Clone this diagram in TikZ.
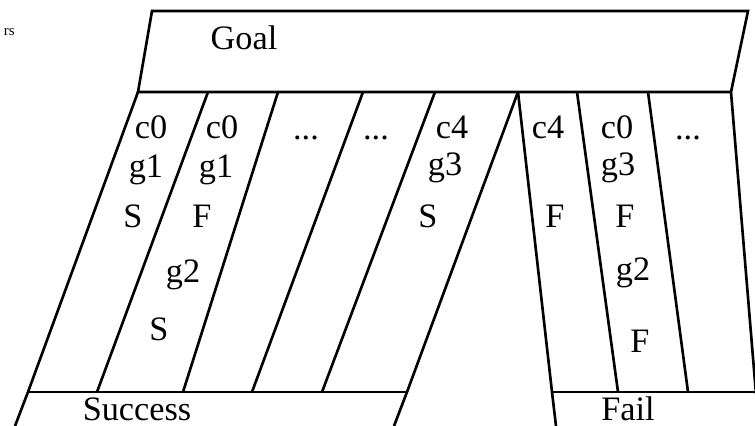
\documentclass[tikz,border=0pt]{standalone}
\usepackage{fontspec}
\setmainfont{Liberation Serif}
\usepackage{tikz}

\begin{document}
\begin{tikzpicture}[x=0.02cm, y=-0.02cm, line width=1.5pt,
		lbl/.style={anchor=base, inner sep=0pt, font=\fontsize{19.5}{23}\selectfont},
		tiny/.style={anchor=base east, inner sep=0pt, font=\fontsize{8.5}{10}\selectfont}]
		\useasboundingbox (0,0) rectangle (755,426);
		\clip (0,0) rectangle (755,426);
		% goal box
		\coordinate (GA) at (152,11);
		\coordinate (GB) at (748,11);
		\coordinate (GC) at (731,92);
		\coordinate (GD) at (138,92);
		\draw (GA) -- (GB) -- (GC) -- (GD) -- cycle;
		% tops of the strips
		\coordinate (T2) at (208,92);
		\coordinate (T3) at (278,92);
		\coordinate (T4) at (363,92);
		\coordinate (T5) at (435,92);
		\coordinate (T6) at (518,92);
		\coordinate (T8) at (577,92);
		\coordinate (T9) at (648,92);
		% feet of the strips
		\coordinate (B1) at (28,392);
		\coordinate (B2) at (97,392);
		\coordinate (B3) at (183,392);
		\coordinate (B4) at (252,392);
		\coordinate (B5) at (322,392);
		\coordinate (B6) at (407,392);
		\coordinate (B7) at (552,392);
		\coordinate (B8) at (618,392);
		\coordinate (B9) at (688,392);
		\coordinate (B10) at (756,394);
		\coordinate (E1) at (15,426);
		\coordinate (E6) at (394,426);
		\coordinate (E7) at (556,426);
		\coordinate (FR) at (755,392);
		\draw (GD) -- (B1) -- (E1);
		\draw (T2) -- (B2);
		\draw (T3) -- (B3);
		\draw (T4) -- (B4);
		\draw (T5) -- (B5);
		\draw (T6) -- (B6) -- (E6);
		\draw (T6) -- (B7) -- (E7);
		\draw (T8) -- (B8);
		\draw (T9) -- (B9);
		\draw (GC) -- (B10);
		\draw (B1) -- (B6);
		\draw (B7) -- (FR);
		% labels
		\node[lbl] (goal) at (244,50) {Goal};
		\node[lbl] (succ) at (137,420) {Success};
		\node[lbl] (fail) at (628,420) {Fail};
		\node[tiny] (rest) at (16,35) {rs};
		\node[lbl] (c0a) at (151,138) {c0};
		\node[lbl] (g1a) at (146,177) {g1};
		\node[lbl] (sa) at (133,227) {S};
		\node[lbl] (c0b) at (222,138) {c0};
		\node[lbl] (g1b) at (216,177) {g1};
		\node[lbl] (fb) at (202,227) {F};
		\node[lbl] (g2b) at (183,282) {g2};
		\node[lbl] (sb) at (159,340) {S};
		\node[lbl] (dotc) at (306,139) {...};
		\node[lbl] (dotd) at (376,139) {...};
		\node[lbl] (c4e) at (452,138) {c4};
		\node[lbl] (g3e) at (445,175) {g3};
		\node[lbl] (se) at (428,227) {S};
		\node[lbl] (c4g) at (548,138) {c4};
		\node[lbl] (fg) at (555,227) {F};
		\node[lbl] (c0h) at (617,138) {c0};
		\node[lbl] (g3h) at (618,175) {g3};
		\node[lbl] (fh) at (625,227) {F};
		\node[lbl] (g2h) at (633,280) {g2};
		\node[lbl] (fk) at (640,352) {F};
		\node[lbl] (doti) at (688,139) {...};
\end{tikzpicture}
\end{document}
